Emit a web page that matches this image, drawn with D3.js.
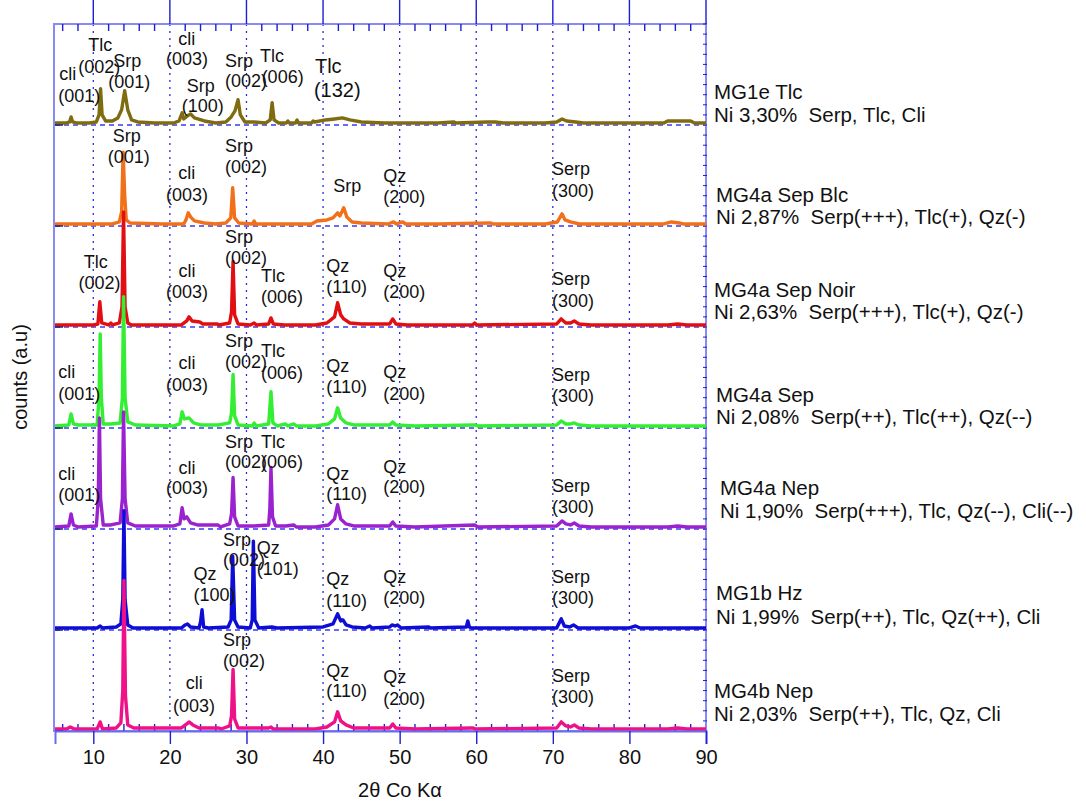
<!DOCTYPE html>
<html><head><meta charset="utf-8">
<script src="https://cdn.jsdelivr.net/npm/d3@7"></script>
<style>
body{margin:0;background:#fff}
text{font-family:"Liberation Sans",Arial,Helvetica,sans-serif;fill:#111;white-space:pre}
</style>
</head><body>
<svg id="chart" width="1086" height="802"></svg>
<script>
// ---------- DATA ----------
const xTicks = [10,20,30,40,50,60,70,80,90];
const sampleNames = ["MG1e Tlc","MG4a Sep Blc","MG4a Sep Noir","MG4a Sep","MG4a Nep","MG1b Hz","MG4b Nep"];
const sampleInfo = ["Ni 3,30%  Serp, Tlc, Cli","Ni 2,87%  Serp(+++), Tlc(+), Qz(-)","Ni 2,63%  Serp(+++), Tlc(+), Qz(-)",
  "Ni 2,08%  Serp(++), Tlc(++), Qz(--)","Ni 1,90%  Serp(+++), Tlc, Qz(--), Cli(--)","Ni 1,99%  Serp(++), Tlc, Qz(++), Cli",
  "Ni 2,03%  Serp(++), Tlc, Qz, Cli"];
const offsets = [600,500,400,300,200,100,0];
const colors = ["#7f6c10","#f27019","#e20f12","#33ee33","#9b22cf","#0d0dd6","#ee1187"];

// [2theta, counts]
const mg1eTlc = [[5,2],[6.5,2],[6.9,3],[7.1,8],[7.3,3],[7.8,2],[9.5,2],[10.4,3],[10.75,10],[10.95,36],[11.15,10],[11.6,4],[12.5,4],[13.2,7],[13.7,15],[14.1,34],[14.5,15],[15,5],[15.8,3],[18,2],[20.5,2],[21.2,4],[21.6,12],[21.8,6],[22.3,9],[22.7,11],[23.2,7],[24.5,4],[26,2],[27.3,3],[28,8],[28.5,14],[28.9,25],[29.2,10],[29.8,3],[31,3],[32.5,2],[33.1,5],[33.35,22],[33.6,5],[34.2,2],[35.2,2],[35.4,4],[35.6,2],[36.4,2],[36.6,5],[36.8,2],[38.5,2],[38.7,4],[38.9,3],[40.3,5],[41.5,6],[42.5,7],[43.5,5],[45,3],[48,2],[55,2],[57.1,3],[57.3,2],[61.5,3],[62.5,3],[63.5,2],[69,2],[70.5,3],[71.2,6],[71.8,4],[73,3],[74,2],[84.5,2],[85,4],[88,4],[88.5,2],[90,2]];
const mg4aSepBlc = [[5,2],[9,2],[12.5,2],[13.4,4],[13.7,14],[13.9,73],[14.1,30],[14.3,6],[14.8,3],[19,2],[21.8,2],[22.1,6],[22.4,13],[22.7,9],[23.2,5],[24.5,3],[26,2],[27.3,3],[27.95,8],[28.2,38],[28.45,8],[29,3],[30.8,2],[31,5],[31.2,2],[35,2],[38.5,2],[39.2,5],[40.5,6],[41.3,8],[41.9,13],[42.2,10],[42.7,18],[43.1,9],[43.8,4],[45,3],[48.5,2],[49.2,4],[49.6,2],[50.4,4],[50.8,2],[55,2],[61.8,3],[62.2,2],[69,2],[70.6,4],[71.2,12],[71.6,6],[72.3,4],[73.5,2],[84.5,2],[85.5,4],[86.5,3],[87,2],[90,2]];
const mg4aSepNoir = [[5,2],[10,2],[10.6,3],[10.85,25],[11.1,4],[12,2],[12.3,4],[12.5,2],[13.4,4],[13.75,20],[13.95,114],[14.15,20],[14.5,4],[15,2],[21.5,2],[22.2,6],[22.5,10],[22.9,6],[23.9,5],[24.3,3],[26.2,3],[26.4,2],[27.8,4],[28.05,15],[28.25,65],[28.45,12],[28.9,3],[30.5,2],[31,4],[31.3,2],[32.9,3],[33.2,9],[33.5,3],[35,2],[39,2],[40.5,4],[41.5,10],[41.9,24],[42.3,12],[42.7,8],[43.5,4],[45,3],[48.7,3],[49.1,8],[49.5,3],[51,2],[59.5,2],[59.8,4],[60.1,2],[70.5,3],[71.1,8],[71.7,4],[72.3,4],[72.8,6],[73.4,3],[75,2],[85,2],[86.3,3],[87.5,2],[90,2]];
const mg4aSep = [[5,2],[6.8,3],[7.1,14],[7.4,4],[8,3],[10.5,3],[10.75,30],[10.9,93],[11.05,30],[11.3,4],[12.3,4],[13.5,5],[13.8,30],[13.95,130],[14.15,30],[14.5,6],[15.5,3],[20.5,2],[21.3,4],[21.6,16],[21.9,9],[22.5,10],[23.1,5],[24,3],[26.3,3],[27.8,5],[28.05,15],[28.25,53],[28.45,12],[28.9,3],[30.8,2],[31,5],[31.3,2],[32.9,4],[33.2,36],[33.45,5],[34,2],[35.1,4],[35.4,2],[36.2,4],[36.5,2],[39,2],[40.7,4],[41.5,9],[41.9,20],[42.3,10],[43,5],[44,3],[48.7,3],[49.1,6],[49.5,3],[52,2],[59.8,3],[60.2,2],[70.5,3],[71.1,7],[71.7,4],[72.3,4],[72.8,5],[73.4,3],[75,2],[90,2]];
const mg4aNep = [[5,2],[6.8,3],[7.1,15],[7.4,4],[8,2],[10.4,3],[10.65,30],[10.8,110],[10.95,30],[11.3,4],[12.3,4],[13.5,6],[13.8,30],[13.95,116],[14.15,30],[14.5,6],[15.5,3],[20.5,3],[21.3,5],[21.6,21],[21.85,10],[22.2,12],[22.7,6],[23.6,4],[26.3,4],[26.6,2],[27.8,5],[28.05,15],[28.25,51],[28.45,12],[28.9,3],[31,3],[32.9,4],[33.05,20],[33.2,61],[33.4,12],[33.8,3],[35.1,3],[36.2,4],[36.5,2],[39,2],[40.7,4],[41.5,10],[41.9,24],[42.3,10],[43,5],[44,3],[48.7,3],[49.1,7],[49.5,3],[52,2],[59.8,4],[60.2,2],[70.5,3],[71.2,8],[71.7,5],[72.3,4],[72.8,6],[73.4,3],[75,2],[85,2],[86.3,3],[87.5,2],[90,2]];
const mg1bHz = [[5,2],[10.5,2],[10.9,4],[11.2,2],[13,3],[13.6,6],[13.85,30],[14,118],[14.15,30],[14.5,5],[15.2,2],[21.5,2],[22,5],[22.3,6],[22.7,3],[23.8,2],[24,8],[24.2,20],[24.4,3],[25,2],[27.6,3],[28,10],[28.2,73],[28.45,10],[28.9,3],[30.5,2],[30.75,10],[30.9,88],[31.1,10],[31.6,2],[33.3,3],[34,2],[40,3],[41.3,6],[41.9,16],[42.3,9],[42.6,10],[43,5],[43.8,3],[45.5,2],[46.1,4],[46.4,2],[48.7,3],[49,5],[49.4,4],[49.7,5],[50.2,2],[53.8,3],[54,2],[58.7,3],[58.9,9],[59.1,3],[59.4,2],[70.5,2],[71.1,11],[71.5,4],[72.2,3],[72.7,5],[73.3,2],[80,2],[80.8,4],[81.4,2],[90,2]];
const mg4bNep = [[5,2],[6.5,2],[7,4],[7.5,2],[10.5,2],[10.9,9],[11.2,2],[13,3],[13.6,8],[13.85,40],[14,149],[14.2,35],[14.5,6],[15.3,3],[21.5,3],[22.2,7],[22.5,9],[23,6],[23.8,3],[26.3,3],[26.7,2],[27.8,5],[28.05,15],[28.25,61],[28.45,12],[28.9,3],[31,3],[32.9,3],[33.2,4],[33.5,2],[39,2],[40.5,4],[41.5,9],[41.9,19],[42.3,10],[43,6],[44,3],[48.7,3],[49.1,7],[49.5,3],[52,2],[59.5,3],[59.9,2],[70.5,3],[71.1,9],[71.7,5],[72.3,4],[72.8,6],[73.4,3],[75,2],[85,2],[86.3,3],[87.5,2],[90,2]];
const seriesData = [mg1eTlc, mg4aSepBlc, mg4aSepNoir, mg4aSep, mg4aNep, mg1bHz, mg4bNep];

// peak labels: [text, 2theta (left edge), counts (text baseline), big?]
const peakLabels = [
 ["cli",5.56,644.6],["(001)",5.43,622.8],["Tlc",9.35,673.6],["(002)",8.04,651.5],["Srp",12.61,657.4],["(001)",11.96,636.6],
 ["cli",21.10,679.2],["(003)",19.49,659.4],["Srp",22.19,633.0],["(100)",21.54,613.2],["Srp",27.19,657.7],["(002)",27.19,637.6],
 ["Tlc",31.76,662.7],["(006)",31.98,641.3],["Tlc",38.94,651.2,1],["(132)",38.81,628.0,1],
 ["Srp",12.53,583.5],["(001)",11.88,562.1],["cli",21.10,546.2],["(003)",19.49,525.0],["Srp",27.19,573.6],["(002)",27.19,552.2],
 ["Srp",41.33,534.0],["Qz",47.86,543.9],["(200)",47.86,522.8],["Serp",69.88,550.5],["(300)",69.88,529.0],
 ["Tlc",8.75,458.1],["(002)",8.08,437.6],["cli",21.14,449.8],["(003)",19.49,429.0],["Srp",27.19,482.9],["(002)",27.19,462.1],
 ["Tlc",31.89,444.9],["(006)",31.89,423.5],["Qz",40.42,454.8],["(110)",40.42,433.4],["Qz",47.86,449.8],["(200)",47.86,429.0],
 ["Serp",69.88,441.6],["(300)",69.88,420.1],
 ["cli",5.43,349.2],["(001)",5.43,327.7],["cli",21.14,358.4],["(003)",19.49,336.9],["Srp",27.19,380.5],["(002)",27.19,359.1],
 ["Tlc",31.89,370.6],["(006)",31.89,348.2],["Qz",40.42,355.7],["(110)",40.42,334.4],["Qz",47.86,349.2],["(200)",47.86,327.7],
 ["Serp",69.88,346.8],["(300)",69.88,326.0],
 ["cli",5.43,248.5],["(001)",5.43,228.0],["cli",21.14,254.5],["(003)",19.49,234.7],["Srp",27.19,279.9],["Tlc",31.89,279.9],
 ["(002)",27.19,260.1],["(006)",31.89,260.1],["Qz",40.42,248.5],["(110)",40.42,228.7],["Qz",47.86,255.1],["(200)",47.86,235.3],
 ["Serp",69.88,236.9],["(300)",69.88,216.1],
 ["Qz",23.07,149.5],["(100)",23.07,129.0],["Srp",26.92,183.2],["(002)",26.92,163.4],["Qz",31.33,175.2],["(101)",31.33,154.5],
 ["Qz",40.42,144.6],["(110)",40.42,123.1],["Qz",47.86,146.2],["(200)",47.86,125.7],["Serp",69.88,146.2],["(300)",69.88,125.7],
 ["cli",22.08,41.3],["(003)",20.42,19.1],["Srp",26.92,84.2],["(002)",26.92,63.7],["Qz",40.42,53.8],["(110)",40.42,34.0],
 ["Qz",47.86,47.2],["(200)",47.86,25.7],["Serp",69.88,48.8],["(300)",69.88,27.4]
];

// ---------- LAYOUT ----------
const L = 55, R = 706, T = 24, B = 731;
const nameX = [714,716,714,716,720,716,714];
const nameLift = [26,24,30,26,34,30,33];
const infoLift = [3,2,8,4,11,6,10];
const svg = d3.select("#chart");
const x = d3.scaleLinear().domain([5,90]).range([L,R]);
const y = d3.scaleLinear().domain([0,700]).range([B,T]);
const tickCol = "#1e1ed2", frameCol = "#8a8af5", gridCol = "#2a2ae0";

svg.append("g").selectAll("line").data(xTicks.filter(v=>v<90)).join("line")
  .attr("x1",d=>x(d)).attr("x2",d=>x(d)).attr("y1",T).attr("y2",B)
  .attr("stroke",gridCol).attr("stroke-width",1.3).attr("stroke-dasharray","2,5");
svg.append("g").selectAll("line").data(offsets.filter(o=>o>0)).join("line")
  .attr("x1",L).attr("x2",R).attr("y1",d=>y(d)).attr("y2",d=>y(d))
  .attr("stroke","#3a3aee").attr("stroke-width",1.3).attr("stroke-dasharray","5,4");

svg.append("rect").attr("x",L-1).attr("y",T).attr("width",R-L+1).attr("height",B-T)
  .attr("fill","none").attr("stroke",frameCol).attr("stroke-width",2);

const minor = d3.range(6,90,2).filter(v=>v%10!==0);
svg.append("g").selectAll("line").data(minor).join("line")
  .attr("x1",d=>x(d)).attr("x2",d=>x(d)).attr("y1",B).attr("y2",B-7)
  .attr("stroke",tickCol).attr("stroke-width",1.4);
svg.append("g").selectAll("line").data(minor).join("line")
  .attr("x1",d=>x(d)).attr("x2",d=>x(d)).attr("y1",T).attr("y2",T+7)
  .attr("stroke",tickCol).attr("stroke-width",1.4);
svg.append("g").selectAll("line").data(xTicks).join("line")
  .attr("x1",d=>x(d)).attr("x2",d=>x(d)).attr("y1",0).attr("y2",T)
  .attr("stroke",tickCol).attr("stroke-width",1.4);
svg.append("g").selectAll("line").data(d3.range(0,701,10)).join("line")
  .attr("x1",R-3).attr("x2",R+1).attr("y1",d=>y(d)).attr("y2",d=>y(d))
  .attr("stroke",tickCol).attr("stroke-width",1);

const line = (off)=>d3.line().x(d=>x(d[0])).y(d=>y(d[1]+off));
svg.append("g").selectAll("path").data(seriesData).join("path")
  .attr("d",(d,i)=>line(offsets[i])(d))
  .attr("fill","none").attr("stroke",(d,i)=>colors[i]).attr("stroke-width",3.4)
  .attr("stroke-linejoin","round");

svg.append("g").selectAll("line").data(offsets).join("line")
  .attr("x1",L).attr("x2",L+8).attr("y1",d=>y(d)).attr("y2",d=>y(d))
  .attr("stroke","#20207a").attr("stroke-width",1.5);

const xAxis = d3.axisBottom(x).tickValues(xTicks).tickSize(13).tickPadding(6).tickFormat(d3.format("d"));
const gx = svg.append("g").attr("transform",`translate(0,${B})`).call(xAxis);
gx.select(".domain").attr("stroke","#6a6af0").attr("stroke-width",2);
gx.selectAll(".tick line").attr("stroke",tickCol).attr("stroke-width",1.4);
gx.selectAll(".tick text").attr("font-size",20).attr("fill","#111").style("font-family",'"Liberation Sans",Arial,sans-serif');

svg.append("g").selectAll("text").data(peakLabels).join("text")
  .attr("x",d=>x(d[1])).attr("y",d=>y(d[2]))
  .attr("font-size",d=>d[3]?20:18).text(d=>d[0]);

const rg = svg.append("g");
sampleNames.forEach((n,i)=>{
  rg.append("text").attr("x",nameX[i]).attr("y",y(offsets[i]+nameLift[i])).attr("font-size",20.5).text(n);
  rg.append("text").attr("x",nameX[i]).attr("y",y(offsets[i]+infoLift[i])).attr("font-size",20.5).text(sampleInfo[i]);
});

svg.append("text").attr("transform","translate(27,377) rotate(-90)").attr("text-anchor","middle")
  .attr("font-size",20).text("counts (a.u)");
svg.append("text").attr("x",400).attr("y",797).attr("text-anchor","middle").attr("font-size",20).text("2θ Co Kα");
</script>
</body></html>
